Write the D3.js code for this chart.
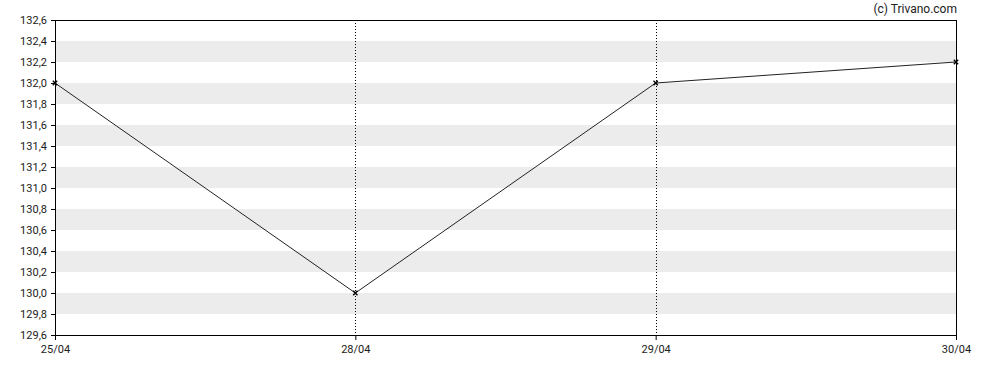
<!DOCTYPE html>
<html>
<head>
<meta charset="utf-8">
<script src="https://cdn.jsdelivr.net/npm/d3@7"></script>
<style>
  body { margin: 0; background: #fff; }
  text { font-family: Roboto, sans-serif; }
</style>
</head>
<body>
<div id="chart"></div>
<script>
// data
let dates = ["25/04", "28/04", "29/04", "30/04"];
let prices = [132.0, 130.0, 132.0, 132.2];
let yTicks = [129.6, 129.8, 130.0, 130.2, 130.4, 130.6, 130.8, 131.0, 131.2, 131.4, 131.6, 131.8, 132.0, 132.2, 132.4, 132.6];

let W = 988, H = 370;
var margin = { top: 20, right: 32, bottom: 35, left: 55 },
  width = W - margin.left - margin.right,
  height = H - margin.top - margin.bottom;

let svg = d3
  .select("#chart")
  .append("svg")
  .attr("width", W)
  .attr("height", H);

let g = svg.append("g").attr("transform", "translate(" + margin.left + "," + margin.top + ")");

var x = d3.scalePoint().domain(dates).range([0, width]);
var y = d3.scaleLinear().domain([129.6, 132.6]).range([height, 0]);

// alternating bands
for (let i = 0; i < yTicks.length - 1; i++) {
  if (i % 2 === 1) {
    g.append("rect")
      .attr("x", 0)
      .attr("width", width)
      .attr("y", y(yTicks[i + 1]))
      .attr("height", y(yTicks[i]) - y(yTicks[i + 1]))
      .attr("fill", "#ececec");
  }
}

// dotted vertical grid lines
g.selectAll("vline")
  .data(dates.slice(1, -1))
  .enter()
  .append("line")
  .attr("x1", d => Math.round(x(d)) + 0.5)
  .attr("x2", d => Math.round(x(d)) + 0.5)
  .attr("y1", 0)
  .attr("y2", height)
  .attr("stroke", "#000")
  .attr("stroke-dasharray", "1,2");

// frame
g.append("rect")
  .attr("x", 0.5)
  .attr("y", 0.5)
  .attr("width", width)
  .attr("height", height)
  .attr("fill", "none")
  .attr("stroke", "#000");

// axes
let fmt = d => d.toFixed(1).replace(".", ",");
let yAxis = g.append("g").call(d3.axisLeft(y).tickValues(yTicks).tickFormat(fmt).tickSizeOuter(0).tickSize(4));
yAxis.select(".domain").remove();
yAxis.selectAll("text").style("font-size", "11px").attr("fill", "#222").attr("dx", "-1");

let xAxis = g
  .append("g")
  .attr("transform", "translate(0," + height + ")")
  .call(d3.axisBottom(x).tickSizeOuter(0).tickSize(5));
xAxis.select(".domain").remove();
xAxis.selectAll("text").style("font-size", "11px").attr("fill", "#222").attr("dy", "0.9em");

// line
g.append("path")
  .datum(prices)
  .attr("fill", "none")
  .attr("stroke", "#222")
  .attr("stroke-width", 1)
  .attr("d", d3.line().x((d, i) => x(dates[i])).y(d => y(d)));

// markers
let sym = d3.symbol().type(d3.symbolX).size(14);
g.selectAll("mark")
  .data(prices)
  .enter()
  .append("path")
  .attr("d", sym)
  .attr("transform", (d, i) => "translate(" + x(dates[i]) + "," + y(d) + ")")
  .attr("stroke", "#000")
  .attr("stroke-width", 1.4)
  .attr("fill", "none");

// copyright
svg.append("text")
  .attr("x", margin.left + width + 1)
  .attr("y", 13)
  .attr("text-anchor", "end")
  .style("font-size", "12px")
  .attr("fill", "#222")
  .text("(c) Trivano.com");
</script>
</body>
</html>
